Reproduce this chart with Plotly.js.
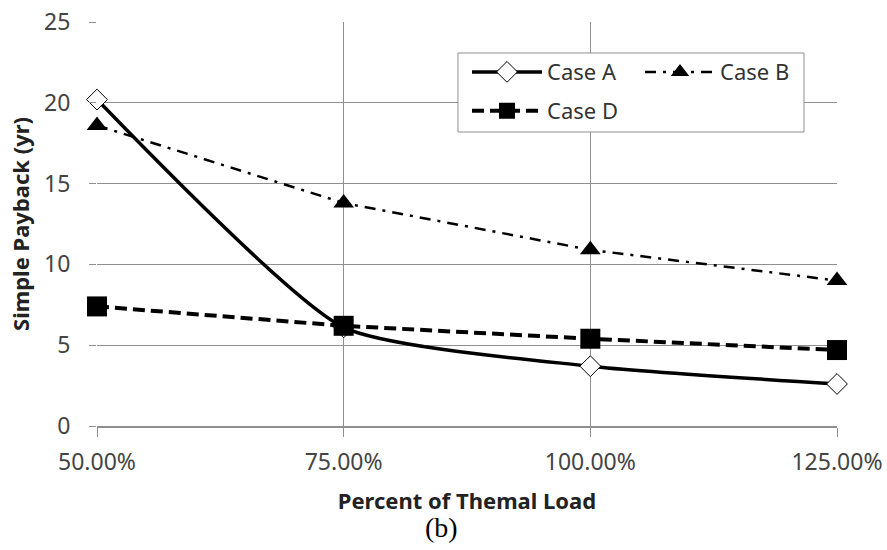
<!DOCTYPE html>
<html>
<head>
<meta charset="utf-8">
<script src="https://cdn.plot.ly/plotly-3.0.1.min.js"></script>
<style>html,body{margin:0;padding:0;background:#fff;}#chart{width:887px;height:550px;}</style>
</head>
<body>
<div id="chart"></div>
<script>
const categories = ['50.00%', '75.00%', '100.00%', '125.00%'];
const caseA = [20.2, 6.1, 3.7, 2.6];
const caseB = [18.6, 13.8, 10.9, 9.0];
const caseD = [7.4, 6.2, 5.4, 4.7];
const seriesNames = ['Case A', 'Case B', 'Case D'];
const yTicks = [0, 5, 10, 15, 20, 25];

const gridCol = '#8f8f8f';
const fam = 'Noto Sans, Open Sans, sans-serif';
const tickFont = {family: fam, size: 23, color: '#444'};
const legFont = {family: fam, size: 22, color: '#333'};

const traces = [
  {
    x: categories, y: caseA, name: seriesNames[0], legend: 'legend',
    type: 'scatter', mode: 'lines+markers', cliponaxis: false,
    line: {color: '#000', width: 3.5, shape: 'spline', smoothing: 0.55},
    marker: {symbol: 'diamond', size: 16, color: '#fff', line: {color: '#000', width: 1}}
  },
  {
    x: categories, y: caseB, name: seriesNames[1], legend: 'legend',
    type: 'scatter', mode: 'lines+markers', cliponaxis: false,
    line: {color: '#000', width: 2.5, dash: '11px,7px,3px,7px'},
    marker: {symbol: 'triangle-up', size: 18, color: '#000'}
  },
  {
    x: categories, y: caseD, name: seriesNames[2], legend: 'legend2',
    type: 'scatter', mode: 'lines+markers', cliponaxis: false,
    line: {color: '#000', width: 4, dash: '12px,6px'},
    marker: {symbol: 'square', size: 20, color: '#000'}
  }
];

const legendCommon = {
  xanchor: 'left', yanchor: 'top', orientation: 'h',
  bgcolor: 'rgba(0,0,0,0)', borderwidth: 0, itemwidth: 70, font: legFont
};

const layout = {
  width: 887, height: 550,
  margin: {l: 97, r: 50, t: 22, b: 124},
  paper_bgcolor: '#fff', plot_bgcolor: '#fff',
  showlegend: true,
  xaxis: {
    type: 'category', range: [0, 3],
    showgrid: true, gridcolor: gridCol, gridwidth: 1,
    ticks: 'outside', ticklen: 9, tickcolor: gridCol, tickwidth: 1,
    showline: true, linecolor: gridCol, linewidth: 2,
    tickfont: tickFont, ticklabelstandoff: 5,
    zeroline: false, fixedrange: true,
    title: {text: 'Percent of Themal Load', standoff: 18,
            font: {family: fam, size: 22, color: '#222', weight: 'bold'}}
  },
  yaxis: {
    range: [0, 25], tickvals: yTicks,
    showgrid: true, gridcolor: gridCol, gridwidth: 1,
    ticks: 'outside', ticklen: 7, tickcolor: gridCol, tickwidth: 1,
    showline: false, zeroline: false,
    tickfont: tickFont, ticklabelstandoff: 14,
    fixedrange: true,
    title: {text: 'Simple Payback (yr)', standoff: 8,
            font: {family: fam, size: 22, color: '#222', weight: 'bold'}}
  },
  legend: Object.assign({x: 0.5, y: 0.928, entrywidth: 88, entrywidthmode: 'pixels'}, legendCommon),
  legend2: Object.assign({x: 0.5, y: 0.832}, legendCommon),
  shapes: [{
    type: 'rect', xref: 'paper', yref: 'paper',
    x0: 0.4878, x1: 0.9554, y0: 0.7277, y1: 0.9233,
    line: {color: '#8f8f8f', width: 1}, fillcolor: '#fff', layer: 'above'
  }],
  annotations: [{
    text: '(b)', xref: 'paper', yref: 'paper', x: 0.465, y: -0.25,
    xanchor: 'center', yanchor: 'middle', showarrow: false,
    font: {family: 'Liberation Serif, Times New Roman, serif', size: 28, color: '#000'}
  }]
};

Plotly.newPlot('chart', traces, layout, {displayModeBar: false, staticPlot: true});
</script>
</body>
</html>
